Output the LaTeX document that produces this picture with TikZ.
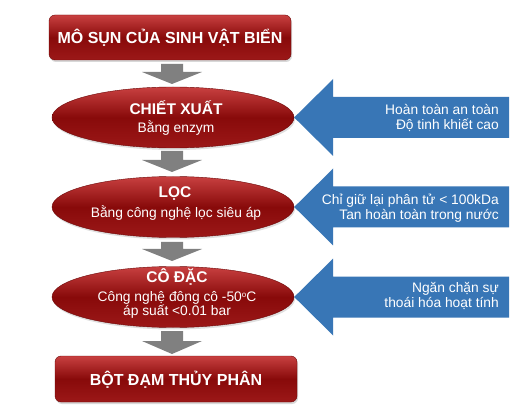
\documentclass[tikz,border=0pt]{standalone}
\usepackage{fontspec}
\setmainfont{Liberation Sans}
\usetikzlibrary{shapes.geometric,shadows}
\definecolor{dred}{RGB}{136,10,10}
\definecolor{lred}{RGB}{200,64,64}
\definecolor{bred}{RGB}{156,24,24}
\definecolor{bblue}{RGB}{56,118,182}
\definecolor{agray}{RGB}{128,128,128}
\newcommand\garrow[3]{\fill[agray] (161,#1) -- (183,#1) -- (183,#2) -- (202,#2) -- (172,#3) -- (142,#2) -- (161,#2) -- cycle;}
\newcommand\barrow[1]{\fill[bblue] (#1) -- ++(39,-38.5) -- ++(0,18) -- ++(176,0) -- ++(0,41) -- ++(-176,0) -- ++(0,18) -- cycle;}
\begin{document}
\begin{tikzpicture}[x=1pt,y=-1pt,
  box/.style={rectangle, rounded corners=6pt, minimum width=242pt, minimum height=45pt, inner sep=0pt,
    top color=lred, bottom color=bred, middle color=dred, draw=dred!80!black, line width=0.4pt,
    drop shadow={opacity=0.3, shadow xshift=1pt, shadow yshift=-2pt}},
  oval/.style={ellipse, minimum width=242pt, minimum height=61pt, inner sep=0pt,
    top color=lred, bottom color=bred, middle color=dred, draw=dred!80!black, line width=0.4pt,
    drop shadow={opacity=0.25, shadow xshift=1pt, shadow yshift=-2pt}},
  ttl/.style={text=white, font=\bfseries\fontsize{16}{19}\selectfont, anchor=base, inner sep=0pt},
  etl/.style={text=white, font=\bfseries\fontsize{15.5}{18}\selectfont, anchor=base, inner sep=0pt},
  sub/.style={text=white, font=\fontsize{13.8}{16}\selectfont, anchor=base, inner sep=0pt},
  rtx/.style={text=white, font=\fontsize{13.8}{16}\selectfont, anchor=base east, inner sep=0pt}]
\fill[white] (0,0) rectangle (528,409);
\useasboundingbox (0,0) rectangle (528,409);

% gray arrows
\garrow{64}{72}{84}
\garrow{151}{160}{172}
\garrow{242}{249}{261}
\garrow{331}{341}{354}

% boxes and ellipses
\node[box] (top) at (170,37.5) {};
\node[ttl] (toptext) at (170,43.3) {MÔ SỤN CỦA SINH VẬT BIỂN};

\node[oval] (e1) at (173,117.5) {};
\node[oval] (e2) at (173,207) {};
\node[oval] (e3) at (173,297) {};

\node[box, minimum height=46pt] (bot) at (176,379) {};
\node[ttl] (bottext) at (176,385) {BỘT ĐẠM THỦY PHÂN};

% blue arrows
\barrow{e1.east}
\barrow{e2.east}
\barrow{e3.east}

% ellipse texts
\node[etl] (e1a) at (176,115) {CHIẾT XUẤT};
\node[sub] (e1b) at (176,133) {Bằng enzym};
\node[etl] (e2a) at (175,197.3) {LỌC};
\node[sub] (e2b) at (176,217.3) {Bằng công nghệ lọc siêu áp};
\node[etl] (e3a) at (177,282.7) {CÔ ĐẶC};
\node[sub] (e3b) at (177,301) {Công nghệ đông cô -50{\fontsize{8}{8}\selectfont\raisebox{4pt}{o}}C};
\node[sub] (e3c) at (177,315) {áp suất <0.01 bar};

% arrow texts
\node[rtx] (r1a) at (499,114.3) {Hoàn toàn an toàn};
\node[rtx] (r1b) at (499,130) {Độ tinh khiết cao};
\node[rtx] (r2a) at (499,204.3) {Chỉ giữ lại phân tử < 100kDa};
\node[rtx] (r2b) at (499,220) {Tan hoàn toàn trong nước};
\node[rtx] (r3a) at (499,292.7) {Ngăn chặn sự};
\node[rtx] (r3b) at (499,307.7) {thoái hóa hoạt tính};
\end{tikzpicture}
\end{document}
